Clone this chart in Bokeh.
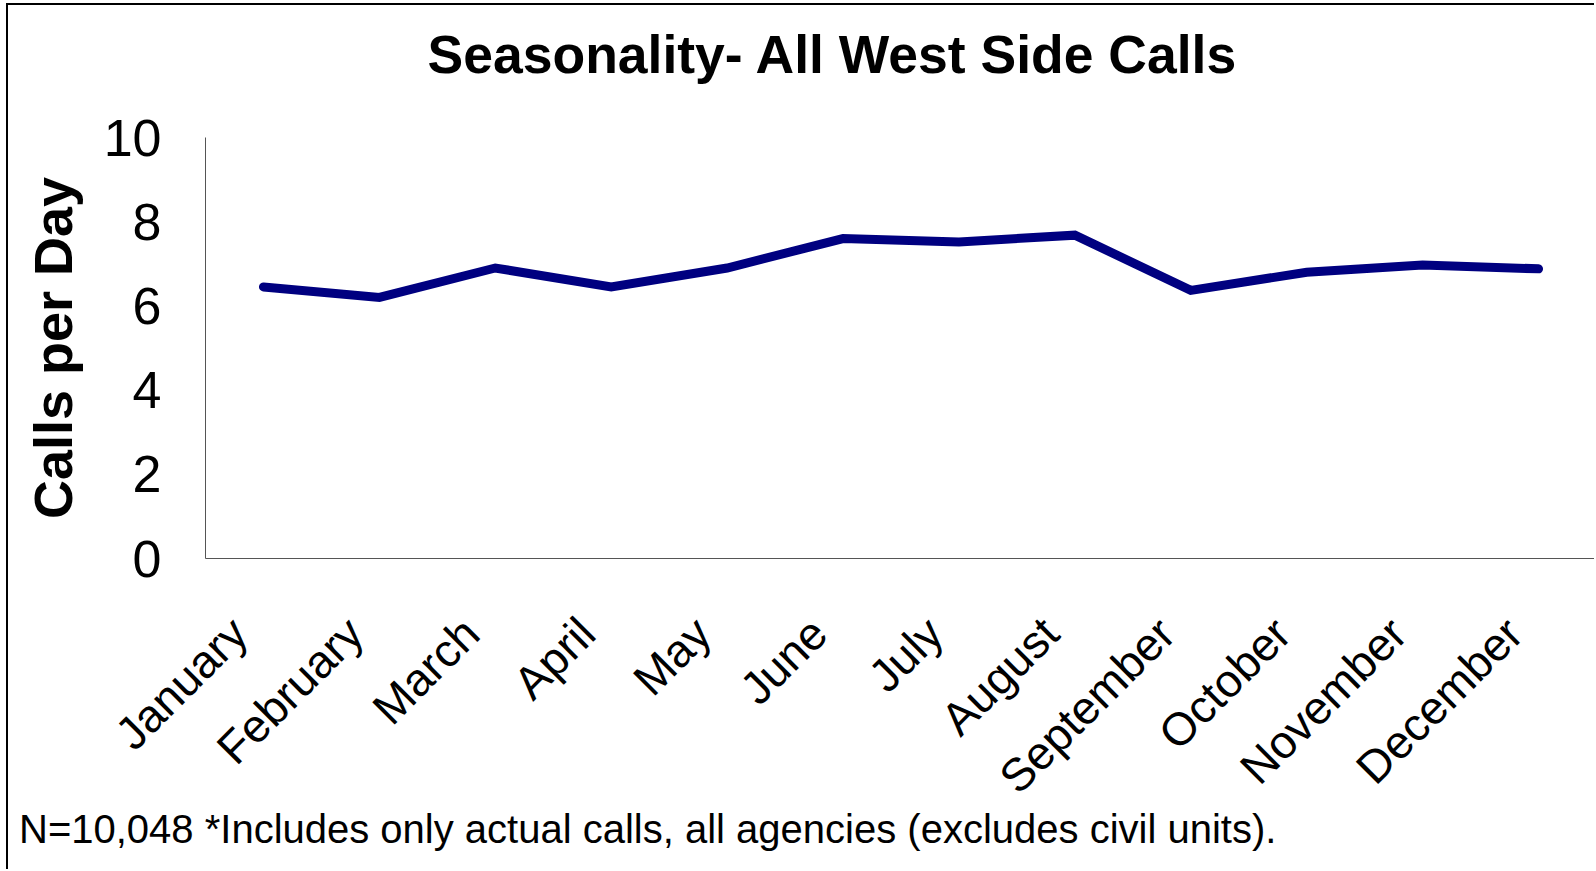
from math import pi
from bokeh.plotting import figure
from bokeh.models import Range1d, FixedTicker, Title
from bokeh.embed import file_html
from bokeh.resources import INLINE

months = ["January", "February", "March", "April", "May", "June",
          "July", "August", "September", "October", "November", "December"]
calls_per_day = [6.45, 6.20, 6.90, 6.45, 6.90, 7.60, 7.52, 7.68, 6.37, 6.80, 6.97, 6.88]
y_ticks = [0, 2, 4, 6, 8, 10]

title_text = "Seasonality- All West Side Calls"
y_label = "Calls per Day"
footnote = "N=10,048 *Includes only actual calls, all agencies (excludes civil units)."

FONT = "Liberation Sans"

# each month occupies one unit-wide slot; the point sits in the middle of it
month_pos = [i + 0.5 for i in range(len(months))]

p = figure(width=1588, height=866,
           x_range=Range1d(0, len(months)),
           y_range=Range1d(0, 10),
           output_backend="svg", toolbar_location=None,
           min_border_left=197, min_border_right=0,
           min_border_top=131, min_border_bottom=313)
p.styles = {"margin-left": "6px", "margin-top": "3px",
            "border-left": "2px solid black", "border-top": "2px solid black"}

p.background_fill_color = "white"
p.border_fill_color = "white"
p.outline_line_color = None
p.xgrid.visible = False
p.ygrid.visible = False

p.line(x=month_pos, y=calls_per_day, line_color="#000080", line_width=9,
       line_cap="round", line_join="miter")

# spacer between the title and the plot area
p.add_layout(Title(text=" ", text_font_size="10px", standoff=18.5), "above")

# title
p.title.text = title_text
p.title.text_font = FONT
p.title.text_font_size = "53.5px"
p.title.text_font_style = "bold"
p.title.text_color = "black"
p.title.align = "left"
p.title.offset = 222
p.title.vertical_align = "top"
p.title.standoff = 39

# y axis
ya = p.yaxis[0]
ya.ticker = FixedTicker(ticks=y_ticks)
ya.major_tick_line_color = None
ya.minor_tick_line_color = None
ya.major_tick_out = 0
ya.major_tick_in = 0
ya.axis_line_color = "#555555"
ya.axis_line_width = 1
ya.major_label_text_font = FONT
ya.major_label_text_font_size = "52px"
ya.major_label_text_color = "black"
ya.major_label_standoff = 44
ya.axis_label = y_label
ya.axis_label_text_font = FONT
ya.axis_label_text_font_size = "54px"
ya.axis_label_text_font_style = "bold"
ya.axis_label_text_color = "black"
ya.axis_label_standoff = 18

# x axis: month labels, anchored slightly left of each slot centre like the original
label_shift = -0.21
label_ticks = [x + label_shift for x in month_pos]
xa = p.xaxis[0]
xa.ticker = FixedTicker(ticks=label_ticks)
xa.major_label_overrides = {t: m for t, m in zip(label_ticks, months)}
xa.major_tick_line_color = None
xa.minor_tick_line_color = None
xa.major_tick_out = 0
xa.major_tick_in = 0
xa.axis_line_color = "#555555"
xa.axis_line_width = 1
xa.major_label_orientation = pi / 4
xa.major_label_text_font = FONT
xa.major_label_text_font_size = "46px"
xa.major_label_text_color = "black"
xa.major_label_standoff = 67

# footnote, placed under the plot (pulled up next to the month labels)
p.add_layout(Title(text=footnote, align="left", offset=-186.5,
                   vertical_align="top", standoff=-35,
                   text_font=FONT, text_font_size="40px",
                   text_font_style="normal", text_color="black"), "below")

open("out.html", "w").write(file_html(p, INLINE))
